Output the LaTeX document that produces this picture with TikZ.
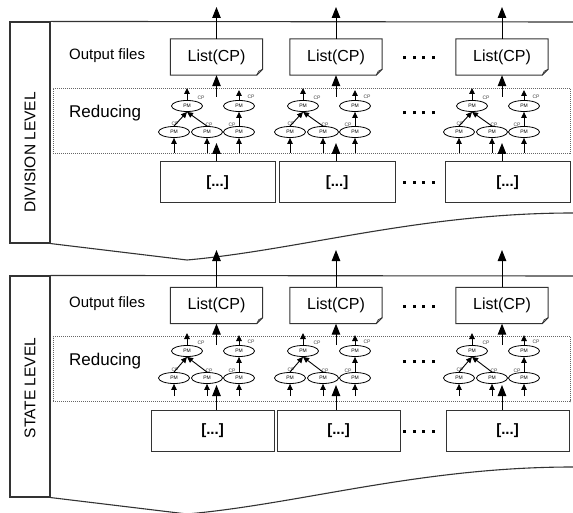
\documentclass[tikz,border=0pt]{standalone}
\usepackage{fontspec}
\setmainfont{Liberation Sans}
\usetikzlibrary{shapes.geometric,arrows.meta}

\begin{document}
\begin{tikzpicture}[x=1pt,y=-1pt,
  frame/.style={draw=black!80,line width=1.1pt},
  sidebox/.style={draw=black!80,line width=1.1pt,minimum width=40pt,minimum height=221pt,inner sep=0pt},
  sidelabel/.style={rotate=90,font=\fontsize{15.5}{16}\selectfont,inner sep=0pt},
  rowlabel/.style={anchor=west,font=\fontsize{15}{16}\selectfont,inner sep=0pt},
  redlabel/.style={anchor=west,font=\fontsize{17}{18}\selectfont,inner sep=0pt},
  listnode/.style={minimum width=92pt,minimum height=36pt,inner sep=0pt,font=\fontsize{16}{17}\selectfont},
  listline/.style={draw=black!80,line width=1pt},
  inbox/.style={draw=black!80,line width=1pt,minimum height=41pt,inner sep=0pt,font=\bfseries\fontsize{15}{16}\selectfont},
  redbox/.style={draw=black!60,line width=0.8pt,dash pattern=on 1pt off 1pt,minimum width=517pt,minimum height=65pt,inner sep=0pt},
  pm/.style={ellipse,draw,line width=0.8pt,minimum width=31pt,minimum height=11pt,inner sep=0pt,font=\fontsize{5}{5}\selectfont},
  cp/.style={font=\fontsize{5}{5}\selectfont,text=black!75,inner sep=0pt},
  mainarrow/.style={-{Triangle[length=11pt,width=8.5pt]},line width=1pt},
  smallarrow/.style={-{Triangle[length=6pt,width=5.5pt]},line width=0.9pt},
  dotrow/.style={inner sep=0pt}
]
\useasboundingbox (0,0) rectangle (573,513);

\newcommand{\fourdots}{\rule{3pt}{3pt}\hspace{6.7pt}\rule{3pt}{3pt}\hspace{6.7pt}\rule{3pt}{3pt}\hspace{6.7pt}\rule{3pt}{3pt}}

% one level: frame, row labels, reducers, input and output boxes
\foreach \lv/\k/\fy/\cy/\pt/\pb/\ia/\lt/\us/\ty/\laby/\lab in
  {d/0/0/0/106/132/153/143/97/7/152.5/DIVISION LEVEL,
   s/1/254/248.5/351/378/396/385/345/250/388/STATE LEVEL}{

  % side label and document-shaped panel
  \node[sidebox] (\lv-side) at (30,132.5+\fy) {};
  \node[sidelabel] (\lv-label) at (30,\laby) {\lab};
  \coordinate (\lv-edge) at (573,22+\fy);
  \coordinate (\lv-dip) at (187,260+\fy);
  \coordinate (\lv-end) at (573,213+\fy);
  \draw[frame] (\lv-side.north east) -- (\lv-edge);
  \draw[frame] (\lv-side.south east) -- (\lv-dip)
    .. controls (300,250+\fy) and (420,213+\fy) .. (\lv-end);

  % row captions and the reducing band
  \node[rowlabel] (\lv-outlbl) at (69,55.5+\cy) {Output files};
  \node[redbox] (\lv-red) at (311.5,120.5+\cy) {};
  \node[redlabel] (\lv-redlbl) at (69,113+\cy) {Reducing};

  % ellipsis markers between the second and last column
  \node[dotrow] (\lv-dots1) at (419,58+\cy) {\fourdots};
  \node[dotrow] (\lv-dots2) at (419,113+\cy) {\fourdots};
  \node[dotrow] (\lv-dots3) at (419,182.5+\cy) {\fourdots};

  % the three columns
  \foreach \g/\ax/\px/\dix/\diw/\six/\siw in
    {1/216.5/217/217.5/115/212.5/123,
     2/336/333/337/116/338.5/123,
     3/502/502/507.5/125/507.5/123}{
    \pgfmathsetmacro\ix{(1-\k)*\dix+\k*\six}
    \pgfmathsetmacro\iw{(1-\k)*\diw+\k*\siw}

    % output file with folded corner
    \node[listnode] (\lv-\g-list) at (\ax,57+\cy) {List(CP)};
    \draw[listline] (\lv-\g-list.south west) -- (\lv-\g-list.north west)
      -- (\lv-\g-list.north east) -- ([shift={(0,-6)}]\lv-\g-list.south east)
      -- ([shift={(-6,0)}]\lv-\g-list.south east) -- cycle;
    \draw[listline,line width=0.6pt] ([shift={(0,-6)}]\lv-\g-list.south east)
      -- ([shift={(-4,-4)}]\lv-\g-list.south east) -- ([shift={(-6,0)}]\lv-\g-list.south east);
    \coordinate (\lv-\g-top) at (\ax,\ty);
    \draw[mainarrow] (\lv-\g-list.north) -- (\lv-\g-top);

    % input block
    \node[inbox,minimum width=\iw pt] (\lv-\g-in) at (\ix,182.5+\cy) {[...]};

    % reducer tree
    \node[pm] (\lv-\g-tl) at (\px-30,\pt) {PM};
    \node[pm] (\lv-\g-tr) at (\px+22,\pt) {PM};
    \node[pm] (\lv-\g-bl) at (\px-43,\pb) {PM};
    \node[pm] (\lv-\g-bm) at (\px-10,\pb) {PM};
    \node[pm] (\lv-\g-br) at (\px+22,\pb) {PM};
    \node[cp] (\lv-\g-cptl) at (\px-16,\pt-8) {CP};
    \node[cp] (\lv-\g-cptr) at (\px+34,\pt-9) {CP};
    \node[cp] (\lv-\g-cpbl) at (\px-42,\pb-8) {CP};
    \node[cp] (\lv-\g-cpbm) at (\px-8,\pb-7) {CP};
    \node[cp] (\lv-\g-cpbr) at (\px+15,\pb-7) {CP};

    \coordinate (\lv-\g-tlo) at (\px-30,\pt-18);
    \coordinate (\lv-\g-tro) at (\px+22,\pt-16);
    \draw[smallarrow] (\lv-\g-tl.north) -- (\lv-\g-tlo);
    \draw[smallarrow] (\lv-\g-tr.north) -- (\lv-\g-tro);
    \draw[smallarrow] (\lv-\g-bl.north) -- (\lv-\g-tl.south);
    \draw[smallarrow] (\lv-\g-bm.north) -- (\lv-\g-tl.south);
    \draw[smallarrow] (\lv-\g-br.north) -- (\lv-\g-tr.south);

    \coordinate (\lv-\g-bli) at (\px-43,\ia);
    \coordinate (\lv-\g-bmi) at (\px-10,\ia);
    \coordinate (\lv-\g-bri) at (\px+22,\ia);
    \draw[smallarrow] (\lv-\g-bli) -- (\lv-\g-bl.south);
    \draw[smallarrow] (\lv-\g-bmi) -- (\lv-\g-bm.south);
    \draw[smallarrow] (\lv-\g-bri) -- (\lv-\g-br.south);

    % main flow: input block up into the band, band up to the output file
    \coordinate (\lv-\g-low) at (\ax,\lt);
    \coordinate (\lv-\g-up) at (\ax,\us);
    \draw[mainarrow] (\lv-\g-low |- \lv-\g-in.north) -- (\lv-\g-low);
    \draw[mainarrow] (\lv-\g-up) -- (\lv-\g-list.south);
  }
}
\end{tikzpicture}
\end{document}
